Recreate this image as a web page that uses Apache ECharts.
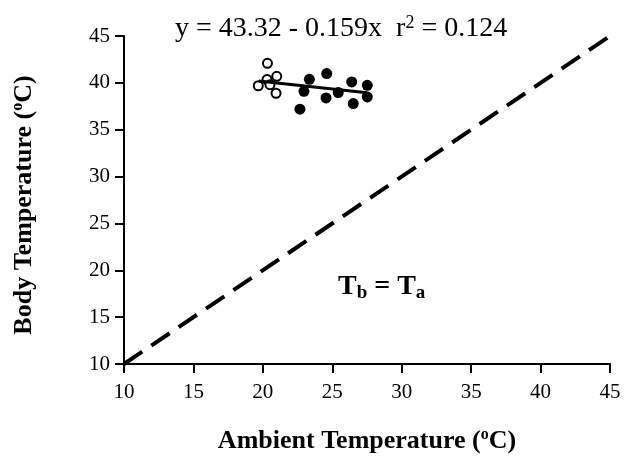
<!DOCTYPE html>
<html><head><meta charset="utf-8">
<script src="https://cdn.jsdelivr.net/npm/echarts@6/dist/echarts.min.js"></script>
<style>html,body{margin:0;padding:0;background:#fff}#c{width:628px;height:456px}</style>
</head><body><div id="c"></div>
<script>
var openX = [20.33, 19.67, 20.30, 21.00, 20.51, 20.95];
var openY = [42.09, 39.69, 40.35, 40.70, 39.80, 38.89];
var filledX = [23.35, 24.60, 22.96, 24.55, 25.43, 22.67, 26.40, 27.52, 27.52, 26.51];
var filledY = [40.38, 40.99, 39.10, 38.39, 38.97, 37.19, 40.10, 39.74, 38.50, 37.79];
var regIntercept = 43.32, regSlope = -0.159, regXRange = [19.7, 27.5];
var identityRange = [10, 45];
var xTicks = [10, 15, 20, 25, 30, 35, 40, 45];
var yTicks = [10, 15, 20, 25, 30, 35, 40, 45];

function zip(a, b) { return a.map(function (v, i) { return [v, b[i]]; }); }
var regLine = regXRange.map(function (x) { return [x, regIntercept + regSlope * x]; });
var idLine = identityRange.map(function (v) { return [v, v]; });

var serif = 'Liberation Serif, Times New Roman, serif';
var chart = echarts.init(document.getElementById('c'));
chart.setOption({
  animation: false,
  backgroundColor: '#fff',
  grid: { left: 124, right: 18, top: 36, bottom: 92, containLabel: false, outerBoundsMode: 'none' },
  xAxis: {
    type: 'value', min: 10, max: 45, interval: 5,
    axisLine: { show: true, lineStyle: { color: '#000', width: 2 } },
    axisTick: { show: true, length: 9, lineStyle: { color: '#000', width: 2 } },
    axisLabel: { color: '#000', fontFamily: serif, fontSize: 21, margin: 18 },
    splitLine: { show: false },
    name: '{b|Ambient Temperature (}{s|o}{b|C)}',
    nameLocation: 'middle', nameGap: 63,
    nameTextStyle: { rich: {
      b: { fontFamily: serif, fontWeight: 'bold', fontSize: 26, color: '#000' },
      s: { fontFamily: serif, fontWeight: 'bold', fontSize: 16, color: '#000', verticalAlign: 'top', padding: [0, 0, 12, 0] }
    } }
  },
  yAxis: {
    type: 'value', min: 10, max: 45, interval: 5,
    axisLine: { show: true, lineStyle: { color: '#000', width: 2 } },
    axisTick: { show: true, length: 9, lineStyle: { color: '#000', width: 2 } },
    axisLabel: { color: '#000', fontFamily: serif, fontSize: 21, margin: 14 },
    splitLine: { show: false },
    name: '{b|Body Temperature (}{s|o}{b|C)}',
    nameLocation: 'middle', nameGap: 86, nameRotate: 90,
    nameTextStyle: { padding: [0, 10, 0, 0], rich: {
      b: { fontFamily: serif, fontWeight: 'bold', fontSize: 26, color: '#000' },
      s: { fontFamily: serif, fontWeight: 'bold', fontSize: 16, color: '#000', verticalAlign: 'top', padding: [0, 0, 12, 0] }
    } }
  },
  graphic: [
    { type: 'text', left: 175, top: 14,
      style: { text: '{a|y = 43.32 - 0.159x  r}{s|2}{a| = 0.124}',
        rich: {
          a: { fontFamily: serif, fontSize: 28, fill: '#000' },
          s: { fontFamily: serif, fontSize: 18, fill: '#000', verticalAlign: 'top', padding: [0, 0, 12, 0] }
        } } },
    { type: 'text', left: 338, top: 273,
      style: { text: '{a|T}{s|b}{a| = T}{s|a}',
        rich: {
          a: { fontFamily: serif, fontSize: 28, fontWeight: 'bold', fill: '#000' },
          s: { fontFamily: serif, fontSize: 19, fontWeight: 'bold', fill: '#000', verticalAlign: 'bottom', padding: [12, 0, 0, 0] }
        } } }
  ],
  series: [
    { type: 'line', data: idLine, symbol: 'none', silent: true,
      lineStyle: { color: '#000', width: 4, type: [22, 11] } },
    { type: 'line', data: regLine, symbol: 'none', silent: true,
      lineStyle: { color: '#000', width: 3 } },
    { type: 'scatter', data: zip(filledX, filledY), symbol: 'circle', symbolSize: 11,
      itemStyle: { color: '#000', opacity: 1 } },
    { type: 'scatter', data: zip(openX, openY), symbol: 'circle', symbolSize: 9,
      itemStyle: { color: '#fff', borderColor: '#000', borderWidth: 2, opacity: 1 } }
  ]
});
</script></body></html>
